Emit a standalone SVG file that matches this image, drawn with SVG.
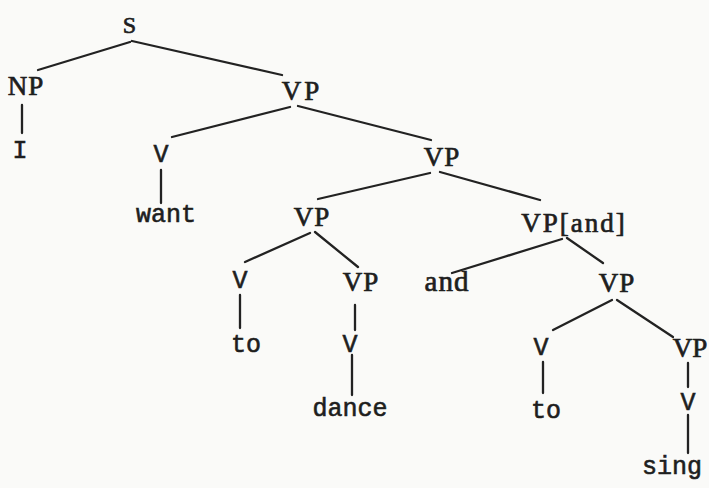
<svg xmlns="http://www.w3.org/2000/svg" width="709" height="488" viewBox="0 0 709 488">
<style>
.bg{fill:#fafaf8}
.e line{stroke:#222;stroke-width:2.3;stroke-linecap:round}
text{fill:#1e1e1e;stroke:#1e1e1e;text-anchor:middle}
.s{font-family:"Liberation Serif",serif;font-size:27px;letter-spacing:1px;stroke-width:0.7px}
.m{font-family:"Liberation Mono",monospace;font-size:25px;stroke-width:0.6px}
</style>
<rect class="bg" width="709" height="488"/>
<g id="connectors" class="e">
<line x1="130" y1="42" x2="38" y2="70"/>
<line x1="132" y1="41" x2="282" y2="75"/>
<line x1="22" y1="105" x2="22" y2="133"/>
<line x1="290" y1="107" x2="172" y2="137"/>
<line x1="298" y1="106" x2="431" y2="140"/>
<line x1="161" y1="170" x2="161" y2="203"/>
<line x1="430" y1="173" x2="318" y2="199"/>
<line x1="440" y1="172" x2="540" y2="200"/>
<line x1="310" y1="233" x2="245" y2="262"/>
<line x1="315" y1="232" x2="358" y2="267"/>
<line x1="240" y1="295" x2="240" y2="328"/>
<line x1="355" y1="305" x2="355" y2="330"/>
<line x1="352" y1="355" x2="352" y2="395"/>
<line x1="562" y1="239" x2="452" y2="273"/>
<line x1="567" y1="238" x2="603" y2="263"/>
<line x1="612" y1="300" x2="553" y2="330"/>
<line x1="617" y1="300" x2="673" y2="337"/>
<line x1="543" y1="362" x2="543" y2="393"/>
<line x1="688" y1="363" x2="688" y2="387"/>
<line x1="688" y1="415" x2="688" y2="453"/>
</g>
<g id="n-S"><text class="s" x="130" y="33" style="font-size:24px">S</text></g>
<g id="n-NP"><text class="s" x="26" y="95">NP</text></g>
<g id="n-I"><text class="m" x="20" y="158">I</text></g>
<g id="n-VP1"><text class="s" x="302" y="100" style="letter-spacing:3px">VP</text></g>
<g id="n-V1"><text class="m" x="161" y="162">V</text></g>
<g id="n-want"><text class="m" x="166" y="222">want</text></g>
<g id="n-VP2"><text class="s" x="442" y="166">VP</text></g>
<g id="n-VP3"><text class="s" x="312" y="226">VP</text></g>
<g id="n-VPand"><text class="s" x="574" y="232" style="letter-spacing:2px">VP[and]</text></g>
<g id="n-V2"><text class="m" x="240" y="288">V</text></g>
<g id="n-to1"><text class="m" x="246" y="352">to</text></g>
<g id="n-VP4"><text class="s" x="361" y="291">VP</text></g>
<g id="n-V3"><text class="m" x="350" y="352">V</text></g>
<g id="n-dance"><text class="m" x="350" y="416">dance</text></g>
<g id="n-and"><text class="s" x="447" y="291" style="font-size:29px">and</text></g>
<g id="n-VP5"><text class="s" x="617" y="292">VP</text></g>
<g id="n-V4"><text class="m" x="541" y="355">V</text></g>
<g id="n-to2"><text class="m" x="546" y="418">to</text></g>
<g id="n-VP6"><text class="s" x="690" y="357" style="letter-spacing:0">VP</text></g>
<g id="n-V5"><text class="m" x="688" y="410">V</text></g>
<g id="n-sing"><text class="m" x="672" y="474">sing</text></g>
</svg>
